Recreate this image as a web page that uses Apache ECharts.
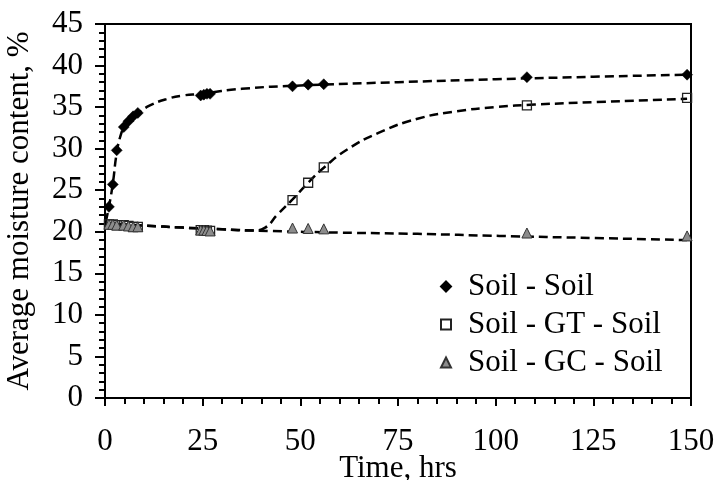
<!DOCTYPE html>
<html>
<head>
<meta charset="utf-8">
<script src="https://cdn.jsdelivr.net/npm/echarts@6/dist/echarts.min.js"></script>
<style>
html,body{margin:0;padding:0;background:#fff;}
#c{width:718px;height:480px;}
</style>
</head>
<body>
<div id="c"></div>
<script>
// Measurement times (hrs)
var times = [1, 2, 3, 4.8, 6, 7.2, 8.4, 24.5, 25.3, 26.1, 26.9, 48, 52, 56, 108, 149];
// Average moisture content (%)
var soilSoil = [23.0, 25.7, 29.8, 32.6, 33.3, 33.9, 34.3, 36.4, 36.5, 36.6, 36.6, 37.5, 37.7, 37.75, 38.6, 38.9];
var soilGTSoil = [20.9, 20.9, 20.8, 20.8, 20.7, 20.6, 20.6, 20.2, 20.2, 20.15, 20.1, 23.8, 25.9, 27.75, 35.2, 36.1];
var soilGCSoil = [20.9, 20.9, 20.8, 20.8, 20.7, 20.6, 20.6, 20.2, 20.2, 20.15, 20.1, 20.45, 20.4, 20.35, 19.85, 19.5];

// Trend lines
var trendSoilT = [0.2, 1, 2, 3, 4, 5, 6.5, 8.5, 11.5, 16, 20, 24.5, 35, 50, 75, 100, 125, 149];
var trendSoilV = [21.2, 23.0, 25.8, 29.5, 31.6, 32.7, 33.6, 34.3, 35.2, 36.0, 36.4, 36.6, 37.2, 37.6, 38.0, 38.35, 38.65, 38.9];
var trendGTT = [0, 10, 20, 30, 38, 41, 44, 48, 52, 56, 62, 70, 80, 90, 100, 110, 125, 149];
var trendGTV = [21.0, 20.75, 20.5, 20.3, 20.15, 20.5, 22.0, 23.9, 25.9, 27.7, 29.9, 31.9, 33.6, 34.5, 35.0, 35.3, 35.6, 36.0];
var trendGCT = [0, 10, 20, 30, 42, 60, 80, 101, 125, 149];
var trendGCV = [21.0, 20.75, 20.5, 20.3, 20.1, 19.9, 19.75, 19.5, 19.25, 19.0];

var seriesNames = ['Soil - Soil', 'Soil - GT - Soil', 'Soil - GC - Soil'];
var xTicks = { min: 0, max: 150, interval: 25 };
var yTicks = { min: 0, max: 45, interval: 5 };

function pairs(xs, ys) { return xs.map(function (x, i) { return [x, ys[i]]; }); }

var FONT = "'Liberation Serif', 'Times New Roman', serif";
var dash = { color: '#000', width: 2.5, type: [9, 5] };

function trend(xs, ys) {
  return {
    type: 'line', data: pairs(xs, ys), showSymbol: false, symbol: 'none',
    smooth: 0.5, lineStyle: dash, silent: true, z: 1,
    legendHoverLink: false
  };
}

var chart = echarts.init(document.getElementById('c'), null, { renderer: 'canvas' });
chart.setOption({
  animation: false,
  backgroundColor: '#fff',
  grid: { left: 105, right: 27, top: 24, bottom: 82, show: true, borderColor: '#000', borderWidth: 2, containLabel: false, outerBoundsMode: 'none' },
  legend: {
    data: seriesNames, orient: 'vertical', left: 435, top: 266,
    itemWidth: 10, itemHeight: 10, itemGap: 7,
    textStyle: { fontFamily: FONT, fontSize: 31, color: '#000', padding: [0, 0, 0, 12] }
  },
  xAxis: {
    type: 'value', min: xTicks.min, max: xTicks.max, interval: xTicks.interval,
    name: 'Time, hrs', nameLocation: 'middle', nameGap: 55, nameMoveOverlap: false,
    nameTextStyle: { fontFamily: FONT, fontSize: 31, color: '#000' },
    axisLine: { show: true, lineStyle: { color: '#000', width: 2 } },
    axisTick: { show: true, inside: false, length: 8, lineStyle: { color: '#000', width: 2 } },
    minorTick: { show: true, splitNumber: 5, length: 6, lineStyle: { color: '#000', width: 2 } },
    splitLine: { show: false },
    axisLabel: { fontFamily: FONT, fontSize: 31, color: '#000', margin: 28 }
  },
  yAxis: {
    type: 'value', min: yTicks.min, max: yTicks.max, interval: yTicks.interval,
    name: 'Average moisture content, %', nameLocation: 'middle', nameGap: 70, nameMoveOverlap: false,
    nameTextStyle: { fontFamily: FONT, fontSize: 31, color: '#000' },
    axisLine: { show: true, lineStyle: { color: '#000', width: 2 } },
    axisTick: { show: true, inside: false, length: 10, lineStyle: { color: '#000', width: 2 } },
    minorTick: { show: true, splitNumber: 5, length: 6, lineStyle: { color: '#000', width: 2 } },
    splitLine: { show: false },
    axisLabel: { fontFamily: FONT, fontSize: 31, color: '#000', margin: 22 }
  },
  series: [
    trend(trendSoilT, trendSoilV),
    trend(trendGTT, trendGTV),
    trend(trendGCT, trendGCV),
    {
      name: seriesNames[0], type: 'scatter', data: pairs(times, soilSoil),
      symbol: 'diamond', symbolSize: 11, z: 3,
      itemStyle: { color: '#000', borderColor: '#000', borderWidth: 0.5, opacity: 1 }
    },
    {
      name: seriesNames[1], type: 'scatter', data: pairs(times, soilGTSoil),
      symbol: 'rect', symbolSize: 9, z: 3,
      itemStyle: { color: 'rgba(255,255,255,0)', borderColor: '#222', borderWidth: 1.3, opacity: 1 }
    },
    {
      name: seriesNames[2], type: 'scatter', data: pairs(times, soilGCSoil),
      symbol: 'triangle', symbolSize: [10, 10], z: 4,
      itemStyle: { color: '#8c8c8c', borderColor: '#333', borderWidth: 1, opacity: 1 }
    }
  ]
});
</script>
</body>
</html>
